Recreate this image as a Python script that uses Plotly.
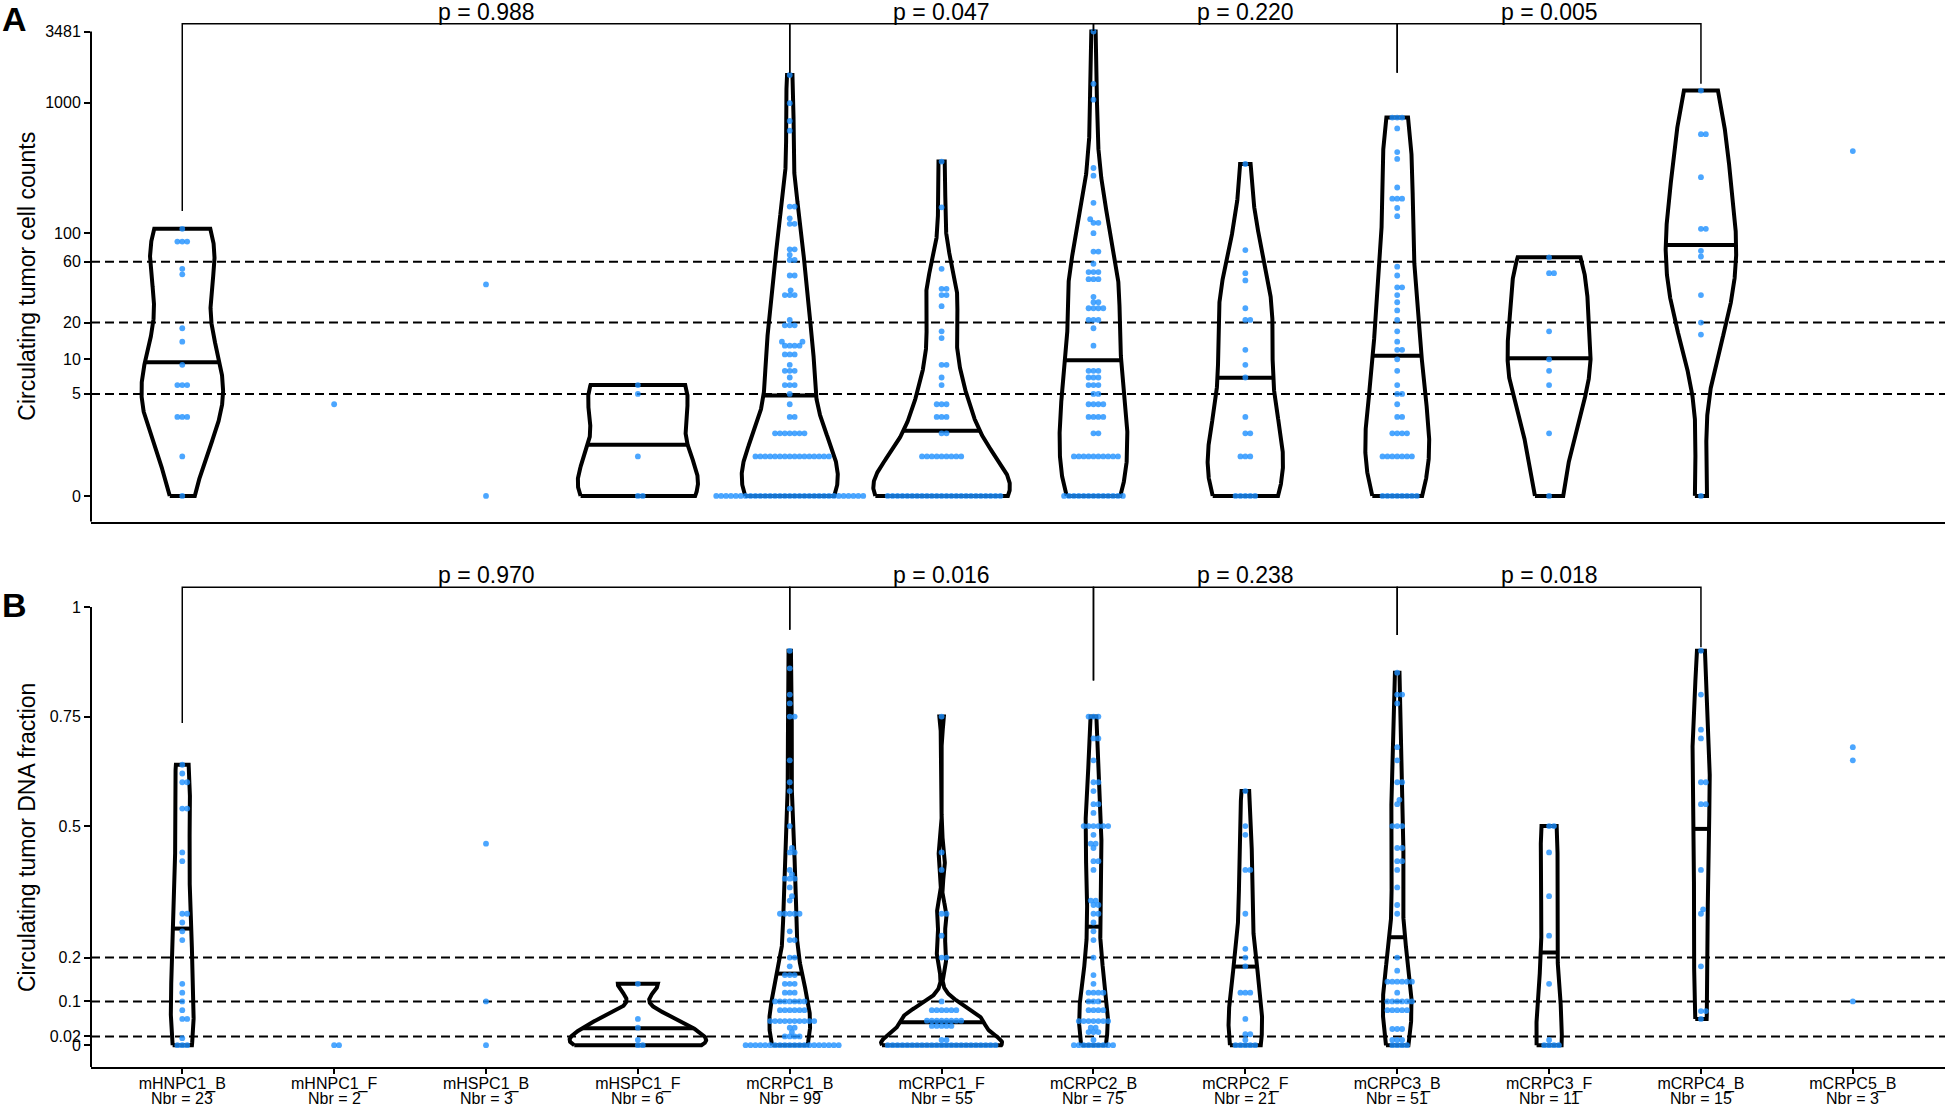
import numpy as np
import plotly.graph_objects as go
from plotly.subplots import make_subplots

categories = ["mHNPC1_B", "mHNPC1_F", "mHSPC1_B", "mHSPC1_F", "mCRPC1_B", "mCRPC1_F",
              "mCRPC2_B", "mCRPC2_F", "mCRPC3_B", "mCRPC3_F", "mCRPC4_B", "mCRPC5_B"]
nbr = [23, 2, 3, 6, 99, 55, 75, 21, 51, 11, 15, 3]

# Panel A: circulating tumor cell counts
ctc_mHNPC1_B = [108, 86, 86, 86, 53, 48, 18, 14, 9, 6, 6, 6, 3, 3, 3, 1, 0]
ctc_mHNPC1_F = [4]
ctc_mHSPC1_B = [40, 0]
ctc_mHSPC1_F = [6, 5, 1, 0, 0]
ctc_mCRPC1_B = [1622, 988, 723, 610, 160, 160, 130, 118, 118, 75, 75, 68, 62, 62, 47, 47, 36,
                33, 33, 33, 21, 19, 19, 19, 14, 14, 13, 13, 13, 13, 11, 11, 11, 9, 8, 8, 8, 7,
                6, 6, 6, 5, 4, 3, 3, 2, 2, 2, 2, 2, 2, 2,
                1, 1, 1, 1, 1, 1, 1, 1, 1, 1, 1, 1, 1, 1, 1, 1,
                0, 0, 0, 0, 0, 0, 0, 0, 0, 0, 0, 0, 0, 0, 0, 0, 0, 0, 0, 0, 0, 0, 0, 0, 0, 0,
                0, 0, 0, 0, 0]
ctc_mCRPC1_F = [354, 158, 53, 37, 37, 33, 33, 27, 17, 15, 9, 9, 7, 6, 4, 4, 4, 3, 3, 3, 2, 2,
                1, 1, 1, 1, 1, 1, 1, 1, 1,
                0, 0, 0, 0, 0, 0, 0, 0, 0, 0, 0, 0, 0, 0, 0, 0, 0, 0, 0, 0, 0, 0, 0, 0]
ctc_mCRPC2_B = [3481, 1390, 1052, 316, 276, 171, 128, 120, 120, 100, 72, 72, 58, 50, 50, 50,
                44, 44, 44, 32, 29, 29, 26, 26, 26, 26, 21, 21, 21, 18, 13, 8, 8, 8, 7, 7, 7,
                6, 6, 6, 5, 5, 4, 4, 4, 4, 3, 3, 3, 3, 2, 2,
                1, 1, 1, 1, 1, 1, 1, 1, 1, 1,
                0, 0, 0, 0, 0, 0, 0, 0, 0, 0, 0, 0, 0]
ctc_mCRPC2_F = [339, 74, 49, 43, 26, 21, 21, 12, 9, 7, 3, 2, 2, 1, 1, 1, 0, 0, 0, 0, 0]
ctc_mCRPC3_B = [767, 767, 767, 634, 418, 371, 224, 184, 184, 184, 156, 135, 55, 47, 38, 38,
                33, 29, 25, 21, 17, 14, 12, 12, 10, 8, 6, 5, 5, 4, 3, 3, 2, 2, 2, 2,
                1, 1, 1, 1, 1, 1, 1, 0, 0, 0, 0, 0, 0, 0, 0]
ctc_mCRPC3_F = [65, 49, 49, 17, 10, 8, 6, 2, 0]
ctc_mCRPC4_B = [1235, 573, 573, 269, 108, 108, 73, 66, 33, 20, 16, 0]
ctc_mCRPC5_B = [426]

# Panel B: circulating tumor DNA fraction
ctdna_mHNPC1_B = [0.64, 0.62, 0.60, 0.60, 0.54, 0.54, 0.44, 0.42, 0.30, 0.30, 0.28, 0.26,
                  0.24, 0.14, 0.12, 0.10, 0.08, 0.06, 0.06, 0.016, 0, 0, 0]
ctdna_mHNPC1_F = [0, 0]
ctdna_mHSPC1_B = [0.46, 0.10, 0]
ctdna_mHSPC1_F = [0.14, 0.06, 0.04, 0.012, 0, 0]
ctdna_mCRPC1_B = [0.90, 0.86, 0.80, 0.78, 0.75, 0.75, 0.65, 0.60, 0.58, 0.54, 0.50, 0.45,
                  0.44, 0.44, 0.40, 0.39, 0.38, 0.38, 0.38, 0.36, 0.34, 0.33,
                  0.30, 0.30, 0.30, 0.30, 0.30, 0.26, 0.24, 0.24, 0.20, 0.20, 0.18,
                  0.16, 0.16, 0.16, 0.14, 0.14, 0.14, 0.12, 0.12, 0.12,
                  0.10, 0.10, 0.10, 0.10, 0.10, 0.10, 0.10,
                  0.08, 0.08, 0.08, 0.08, 0.08, 0.08,
                  0.055, 0.055, 0.055, 0.055, 0.055, 0.055, 0.055, 0.055, 0.055, 0.055,
                  0.04, 0.04, 0.03, 0.02, 0.02, 0.02, 0.02,
                  0, 0, 0, 0, 0, 0, 0, 0, 0, 0, 0, 0, 0, 0, 0, 0, 0, 0, 0, 0]
ctdna_mCRPC1_F = [0.75, 0.44, 0.40, 0.30, 0.30, 0.25, 0.20, 0.20, 0.10,
                  0.08, 0.08, 0.08, 0.08, 0.08, 0.08,
                  0.056, 0.056, 0.056, 0.056, 0.056, 0.056, 0.056, 0.056,
                  0.044, 0.044, 0.044, 0.044, 0.044, 0.012, 0.012,
                  0, 0, 0, 0, 0, 0, 0, 0, 0, 0, 0, 0, 0, 0, 0, 0, 0, 0, 0, 0, 0, 0, 0]
ctdna_mCRPC2_B = [0.75, 0.75, 0.75, 0.70, 0.70, 0.65, 0.60, 0.60, 0.58, 0.55, 0.55, 0.53,
                  0.50, 0.50, 0.50, 0.50, 0.50, 0.50, 0.48, 0.46, 0.46, 0.45, 0.42, 0.42,
                  0.40, 0.33, 0.33, 0.32, 0.32, 0.30, 0.30, 0.28, 0.26, 0.24, 0.20, 0.16,
                  0.14, 0.12, 0.12, 0.12, 0.12, 0.10, 0.10, 0.10, 0.08, 0.08, 0.08, 0.08,
                  0.055, 0.055, 0.055, 0.055, 0.055, 0.055, 0.055, 0.04, 0.04,
                  0.03, 0.03, 0.03, 0.012, 0, 0, 0, 0, 0, 0, 0, 0, 0]
ctdna_mCRPC2_F = [0.58, 0.50, 0.48, 0.40, 0.40, 0.30, 0.22, 0.20, 0.18, 0.12, 0.12, 0.12,
                  0.06, 0.025, 0.025, 0.012, 0, 0, 0, 0, 0]
ctdna_mCRPC3_B = [0.85, 0.80, 0.80, 0.78, 0.68, 0.65, 0.60, 0.60, 0.56, 0.55, 0.50, 0.50,
                  0.50, 0.45, 0.45, 0.42, 0.42, 0.40, 0.36, 0.32, 0.30, 0.20, 0.17,
                  0.145, 0.145, 0.145, 0.145, 0.145, 0.145, 0.12,
                  0.10, 0.10, 0.10, 0.10, 0.10, 0.10, 0.08, 0.08, 0.08, 0.08, 0.08,
                  0.037, 0.037, 0.037, 0.012, 0.012, 0.012, 0, 0, 0, 0]
ctdna_mCRPC3_F = [0.50, 0.50, 0.44, 0.34, 0.25, 0.14, 0.012, 0, 0, 0, 0]
ctdna_mCRPC4_B = [0.90, 0.80, 0.72, 0.70, 0.60, 0.60, 0.55, 0.55, 0.40, 0.31, 0.30, 0.18,
                  0.078, 0.078, 0.06]
ctdna_mCRPC5_B = [0.68, 0.65, 0.10]

ctc_ticks = [0, 5, 10, 20, 60, 100, 1000, 3481]
ctc_cutoffs = [5, 20, 60]
ctdna_ticks = [0, 0.02, 0.1, 0.2, 0.5, 0.75, 1]
ctdna_tick_labels = ["0", "0.02", "0.1", "0.2", "0.5", "0.75", "1"]
ctdna_cutoffs = [0.02, 0.1, 0.2]

comparisons = [("mHNPC1_B", "mCRPC1_B"), ("mCRPC1_B", "mCRPC2_B"),
               ("mCRPC2_B", "mCRPC3_B"), ("mCRPC3_B", "mCRPC4_B")]
ctc_pvalues = ["0.988", "0.047", "0.220", "0.005"]
ctdna_pvalues = ["0.970", "0.016", "0.238", "0.018"]

ctc_groups = [ctc_mHNPC1_B, ctc_mHNPC1_F, ctc_mHSPC1_B, ctc_mHSPC1_F, ctc_mCRPC1_B,
              ctc_mCRPC1_F, ctc_mCRPC2_B, ctc_mCRPC2_F, ctc_mCRPC3_B, ctc_mCRPC3_F,
              ctc_mCRPC4_B, ctc_mCRPC5_B]
ctdna_groups = [ctdna_mHNPC1_B, ctdna_mHNPC1_F, ctdna_mHSPC1_B, ctdna_mHSPC1_F,
                ctdna_mCRPC1_B, ctdna_mCRPC1_F, ctdna_mCRPC2_B, ctdna_mCRPC2_F,
                ctdna_mCRPC3_B, ctdna_mCRPC3_F, ctdna_mCRPC4_B, ctdna_mCRPC5_B]

# layout geometry (pixels of the 1945x1108 page)
FONT = "Liberation Sans, Arial, Helvetica, sans-serif"
W, H = 1945, 1108
M_L, M_R, M_T, M_B = 91, 0, 20, 41
XR = [-0.601, 11.607]
DOM_A = [0.5208, 1.0]
DOM_B = [0.0, 0.4624]
YR_A = [-0.197, 3.63]
YR_B = [-0.0497, 1.055]
PLOT_W = W - M_L - M_R
PLOT_H = H - M_T - M_B
XPX = PLOT_W / (XR[1] - XR[0])
DOT_GAP = 4.9
DOT_COLOR = "rgba(30,144,255,0.8)"
LW = 4

# bracket tips (raw units) and bracket heights
ctc_tips = {"mHNPC1_B": 148, "mCRPC1_B": 1690, "mCRPC2_B": 3515, "mCRPC3_B": 1690, "mCRPC4_B": 1390}
ctc_bracket_top = 4000
ctdna_tips = {"mHNPC1_B": 0.735, "mCRPC1_B": 0.948, "mCRPC2_B": 0.832, "mCRPC3_B": 0.936, "mCRPC4_B": 0.908}
ctdna_bracket_top = 1.045


def log1p10(v):
    return np.log10(np.asarray(v, float) + 1)


def ident(v):
    return np.asarray(v, float)


def nrd0(x):
    hi = np.std(x, ddof=1)
    q75, q25 = np.percentile(x, [75, 25])
    lo = min(hi, (q75 - q25) / 1.34)
    if not lo > 0:
        lo = hi or abs(x[0]) or 1.0
    return 0.9 * lo * len(x) ** -0.2


def density(vals):
    ys = np.linspace(vals.min(), vals.max(), 512)
    bw = nrd0(vals)
    z = (ys[:, None] - vals[None, :]) / bw
    dens = np.exp(-0.5 * z ** 2).sum(axis=1) / (len(vals) * bw * np.sqrt(2 * np.pi))
    return ys, dens


def swarm(ypix, d):
    xs = np.zeros(len(ypix))
    px, py = [], []
    for i in np.argsort(ypix, kind="stable"):
        y = ypix[i]
        cands = [0.0]
        for xj, yj in zip(px, py):
            dy = abs(y - yj)
            if dy < d:
                dx = np.sqrt(d * d - dy * dy)
                cands += [xj + dx, xj - dx]
        cands.sort(key=lambda c: (abs(c), -c))
        for c in cands:
            if all((c - xj) ** 2 + (y - yj) ** 2 >= d * d - 1e-6 for xj, yj in zip(px, py)):
                break
        xs[i] = c
        px.append(c)
        py.append(y)
    return xs


def add_panel(fig, row, groups, tf, dom, yr):
    ypx = (dom[1] - dom[0]) * PLOT_H / (yr[1] - yr[0])
    vals = [tf(g) for g in groups]
    dens = {i: density(v) for i, v in enumerate(vals) if len(v) >= 5}
    dmax = max(d.max() for _, d in dens.values())
    for i, (ys, d) in dens.items():
        hw = d / dmax * 0.45
        fig.add_trace(go.Scatter(
            x=np.concatenate([i - hw, (i + hw)[::-1], [i - hw[0]]]),
            y=np.concatenate([ys, ys[::-1], [ys[0]]]),
            mode="lines", line=dict(color="black", width=LW),
            hoverinfo="skip"), row=row, col=1)
        cum = np.cumsum(d) / d.sum()
        ymed = np.interp(0.5, cum, ys)
        hm = np.interp(ymed, ys, hw)
        fig.add_trace(go.Scatter(
            x=[i - hm, i + hm], y=[ymed, ymed], mode="lines",
            line=dict(color="black", width=LW), hoverinfo="skip"), row=row, col=1)
    dx, dy = [], []
    for i, v in enumerate(vals):
        off = swarm(v * ypx, DOT_GAP)
        dx.extend(i + off / XPX)
        dy.extend(v)
    fig.add_trace(go.Scatter(
        x=dx, y=dy, mode="markers",
        marker=dict(size=5.8, color=DOT_COLOR, line=dict(width=0))), row=row, col=1)


def add_brackets(fig, xref, yref, tips, top, pvalues, tf):
    ytop = float(tf(top))
    for (a, b), p in zip(comparisons, pvalues):
        ia, ib = categories.index(a), categories.index(b)
        ta, tb = float(tf(tips[a])), float(tf(tips[b]))
        fig.add_shape(type="path", xref=xref, yref=yref,
                      path=f"M {ia},{ta} L {ia},{ytop} L {ib},{ytop} L {ib},{tb}",
                      line=dict(color="black", width=1.5))
        fig.add_annotation(x=(ia + ib) / 2, y=ytop, xref=xref, yref=yref,
                           text=f"p = {p}", showarrow=False, yanchor="bottom", yshift=-3,
                           font=dict(size=23, color="black", family=FONT))


def add_guides(fig, yref, cutoffs, tf, axis_top, yr):
    for c in cutoffs:
        y = float(tf(c))
        fig.add_shape(type="line", xref="paper", yref=yref, x0=0, x1=1, y0=y, y1=y,
                      line=dict(color="black", width=2, dash="9px,5px"), layer="below")
    fig.add_shape(type="line", xref="paper", yref=yref, x0=0, x1=0,
                  y0=yr[0], y1=float(tf(axis_top)), line=dict(color="black", width=2))


fig = make_subplots(rows=2, cols=1)

add_panel(fig, 1, ctc_groups, log1p10, DOM_A, YR_A)
add_panel(fig, 2, ctdna_groups, ident, DOM_B, YR_B)

add_guides(fig, "y", ctc_cutoffs, log1p10, ctc_ticks[-1], YR_A)
add_guides(fig, "y2", ctdna_cutoffs, ident, ctdna_ticks[-1], YR_B)
add_brackets(fig, "x", "y", ctc_tips, ctc_bracket_top, ctc_pvalues, log1p10)
add_brackets(fig, "x2", "y2", ctdna_tips, ctdna_bracket_top, ctdna_pvalues, ident)

# second line of the category labels: sample counts
for i, n in enumerate(nbr):
    fig.add_annotation(x=i, y=(H - M_B - 1098) / PLOT_H, xref="x2", yref="paper",
                       text=f"Nbr = {n}", showarrow=False, xanchor="center", yanchor="middle",
                       borderpad=0, font=dict(size=16, color="black", family=FONT))

tick_font = dict(size=16, color="black", family=FONT)
xcommon = dict(range=XR, domain=[0, 1], showgrid=False, zeroline=False, showline=True,
               linewidth=2, linecolor="black", automargin=False)
ycommon = dict(showgrid=False, zeroline=False, showline=False, ticks="outside",
               ticklen=6, tickwidth=1.5, tickcolor="black", tickfont=tick_font,
               automargin=False)

fig.update_layout(
    width=W, height=H,
    margin=dict(l=M_L, r=M_R, t=M_T, b=M_B),
    paper_bgcolor="white", plot_bgcolor="white",
    showlegend=False,
    font=dict(family=FONT, color="black"),
    xaxis=dict(xcommon, anchor="y", showticklabels=False, ticks=""),
    xaxis2=dict(xcommon, anchor="y2", tickmode="array", tickvals=list(range(len(categories))),
                ticktext=categories, ticklabelstandoff=-4,
                ticks="outside", ticklen=5, tickwidth=1.5, tickcolor="black",
                tickfont=tick_font),
    yaxis=dict(ycommon, anchor="x", domain=DOM_A, range=YR_A, tickmode="array",
               tickvals=log1p10(ctc_ticks), ticktext=[str(t) for t in ctc_ticks]),
    yaxis2=dict(ycommon, anchor="x2", domain=DOM_B, range=YR_B, tickmode="array",
                tickvals=ctdna_ticks, ticktext=ctdna_tick_labels),
)

# y axis titles and panel letters
for text, yc in [("Circulating tumor cell counts", 276.7), ("Circulating tumor DNA fraction", 838)]:
    fig.add_annotation(x=(27 - M_L) / PLOT_W, y=(H - M_B - yc) / PLOT_H, xref="paper", yref="paper",
                       text=text, textangle=-90, showarrow=False, xanchor="center", yanchor="middle",
                       font=dict(size=23, color="black", family=FONT))
for text, yc in [("A", 19), ("B", 605)]:
    fig.add_annotation(x=(14 - M_L) / PLOT_W, y=(H - M_B - yc) / PLOT_H, xref="paper", yref="paper",
                       text=f"<b>{text}</b>", showarrow=False, xanchor="center", yanchor="middle",
                       font=dict(size=34, color="black", family=FONT))

# the page body has a default 8px margin; drop it so the figure fills the window exactly
fig.write_html("out.html", config={"displayModeBar": False},
               post_script="document.body.style.margin='0';")
